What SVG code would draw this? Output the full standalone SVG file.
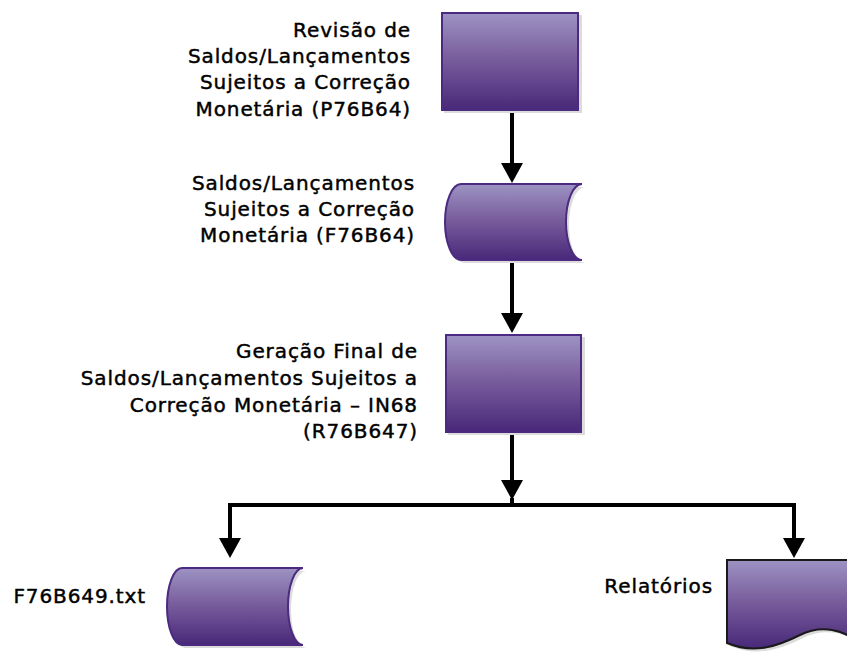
<svg xmlns="http://www.w3.org/2000/svg" width="847" height="652" viewBox="0 0 847 652">
<style>
.lbl{font-family:"DejaVu Sans","Liberation Sans",sans-serif;font-size:20px;letter-spacing:0.9px;fill:#000;stroke:#000;stroke-width:0.45px;text-anchor:end}
.shape{fill:url(#g);stroke:#4b2a80;stroke-width:2}
.shadow{fill:#dcdcdc}
.conn{stroke:#000;stroke-width:4;fill:none}
.head{fill:#000}
</style>
<defs>
<linearGradient id="g" x1="0" y1="0" x2="0" y2="1">
<stop offset="0" stop-color="#9d93c3"/>
<stop offset="0.45" stop-color="#7a5f9e"/>
<stop offset="1" stop-color="#482879"/>
</linearGradient>
</defs>
<rect width="847" height="652" fill="#fff"/>
<g id="connectors">
<line class="conn" x1="512" y1="110" x2="512" y2="165"/>
<polygon class="head" points="501,163 523,163 512,183"/>
<line class="conn" x1="512" y1="260" x2="512" y2="315"/>
<polygon class="head" points="501,313 523,313 512,333"/>
<line class="conn" x1="512" y1="432" x2="512" y2="482"/>
<polygon class="head" points="501,480 523,480 512,500"/>
<polyline class="conn" points="230,540 230,505 794,505 794,540"/>
<line class="conn" x1="512" y1="498" x2="512" y2="505"/>
<polygon class="head" points="219,538 241,538 230,558"/>
<polygon class="head" points="783,538 805,538 794,558"/>
</g>
<g id="n1">
<rect class="shadow" x="444" y="15" width="138" height="98"/>
<rect class="shape" x="442" y="13" width="136" height="97"/>
<text class="lbl" x="411" y="37">Revisão de</text>
<text class="lbl" x="411" y="63">Saldos/Lançamentos</text>
<text class="lbl" x="411" y="89">Sujeitos a Correção</text>
<text class="lbl" x="411" y="116">Monetária (P76B64)</text>
</g>
<g id="n2">
<path class="shadow" d="M464,187 H585 A16,38 0 0 0 585,263 H464 A16,38 0 0 1 464,187 Z"/>
<path class="shape" d="M461,184 H582 A16,38 0 0 0 582,260 H461 A16,38 0 0 1 461,184 Z"/>
<text class="lbl" x="415" y="190">Saldos/Lançamentos</text>
<text class="lbl" x="415" y="216">Sujeitos a Correção</text>
<text class="lbl" x="415" y="242">Monetária (F76B64)</text>
</g>
<g id="n3">
<rect class="shadow" x="448" y="337" width="137" height="98"/>
<rect class="shape" x="446" y="335" width="135" height="97"/>
<text class="lbl" x="418" y="358">Geração Final de</text>
<text class="lbl" x="418" y="385">Saldos/Lançamentos Sujeitos a</text>
<text class="lbl" x="418" y="412">Correção Monetária – IN68</text>
<text class="lbl" x="418" y="438">(R76B647)</text>
</g>
<g id="n4">
<path class="shadow" d="M185,571 H306 A15,38.5 0 0 0 306,648 H185 A15,38.5 0 0 1 185,571 Z"/>
<path class="shape" d="M182,568 H303 A15,38.5 0 0 0 303,645 H182 A15,38.5 0 0 1 182,568 Z"/>
<text class="lbl" x="146" y="603">F76B649.txt</text>
</g>
<g id="n5">
<path class="shadow" d="M730,563 H864 V649 C848,631 823,628 803,638 S758,658 730,646 Z"/>
<path d="M727,560 H861 V646 C845,628 820,625 800,635 S755,655 727,643 Z" fill="url(#g)" stroke="#1a1a1a" stroke-width="2"/>
<text class="lbl" x="713" y="593">Relatórios</text>
</g>
</svg>
